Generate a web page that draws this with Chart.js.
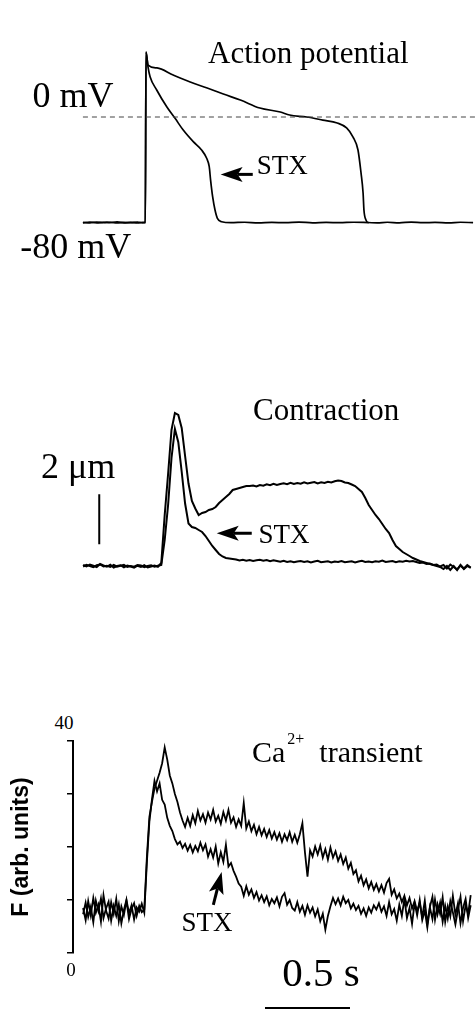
<!DOCTYPE html>
<html>
<head>
<meta charset="utf-8">
<title>AP / contraction / Ca transient</title>
<script src="https://cdn.jsdelivr.net/npm/chart.js"></script>
<style>
    body { margin: 0; background: #fff; }
    #page {
        position: relative; width: 475px; height: 1010px; overflow: hidden;
        font-family: 'Liberation Serif', 'Times New Roman', serif; color: #000;
    }
    #page canvas { position: absolute; left: 0; }
    .lbl { position: absolute; white-space: nowrap; line-height: 1; }
</style>
</head>
<body>
<div id="page">
    <canvas id="apChart" width="475" height="300" style="top:0"></canvas>
    <canvas id="contrChart" width="475" height="220" style="top:380px"></canvas>
    <canvas id="caChart" width="475" height="274" style="top:736px"></canvas>

    <div class="lbl" style="font-size:31px;left:208px;top:36.5px">Action potential</div>
    <div class="lbl" style="font-size:36px;left:32.4px;top:76.5px">0 mV</div>
    <div class="lbl" style="font-size:36px;left:20.3px;top:228.2px">-80 mV</div>
    <div class="lbl" style="font-size:27px;left:256.8px;top:152.4px">STX</div>

    <div class="lbl" style="font-size:31px;left:253px;top:394px">Contraction</div>
    <div class="lbl" style="font-size:36px;left:41px;top:448px">2 μm</div>
    <div class="lbl" style="font-size:27px;left:258.5px;top:520.7px">STX</div>

    <div class="lbl" style="font-size:30px;left:252px;top:736.6px">Ca<span style="font-size:16px;position:relative;top:-18px;margin-left:2px">2+</span>&nbsp;&nbsp;transient</div>
    <div class="lbl" style="font-size:27px;left:181.5px;top:909.4px">STX</div>
    <div class="lbl" style="font-size:19px;left:54.5px;top:713.4px">40</div>
    <div class="lbl" style="font-size:19px;left:66.2px;top:960.1px">0</div>
    <div class="lbl" style="font-size:41px;left:282.3px;top:952.4px">0.5 s</div>
</div>

<script>
// ===== Datos (tiempo en ms, 0 = estímulo) =====

// Potencial de acción (mV)
const apTimeCtrl = [-371, -330, -290, -250, -210, -170, -130, -90, -50, -20, -4, 0, 12, 65, 160, 260, 360, 455, 555, 670,
    790, 845, 945, 1040, 1125, 1180, 1218, 1247, 1265, 1277, 1282, 1294, 1306, 1360, 1420, 1490, 1560, 1630, 1700, 1780, 1850, 1924];
const apCtrl = [-80.2, -79.6, -80.3, -79.8, -80.1, -79.5, -80.2, -79.9, -80.3, -79.8, -80, 49.3, 39.4, 37.2, 31.8, 26.5, 22.0, 17.4, 12.9, 6.8,
    3.8, 1.5, 0, -2.3, -4.5, -8.3, -15.2, -25.0, -42.5, -57.6, -70.5, -78.1, -80, -80.3, -79.8, -80.2, -79.7, -80.1, -79.9, -80.3, -79.8, -80.1];
const apTimeStx = [-371, -330, -290, -250, -210, -170, -130, -90, -50, -20, -4, 0, 12, 24, 63, 122, 171, 219, 278, 327,
    357, 372, 380, 392, 406, 420, 445, 500, 580, 660, 740, 820, 900, 980, 1060, 1140, 1220, 1310];
const apStx = [-79.9, -80.2, -79.7, -80.1, -79.8, -80.3, -79.9, -80.1, -79.7, -80.2, -80, 49.3, 37.9, 30.6, 20.5, 7.8, -1.0, -9.9, -18.7, -25.0,
    -31.3, -37.7, -47.8, -60.4, -70.5, -76.8, -79.4, -80.1, -79.8, -80.2, -79.9, -80.1, -79.7, -80.2, -79.9, -80.1, -79.8, -80];
const apZeroLine = [-371, 1935];

// Contracción (acortamiento, µm), muestreo cada 20 ms desde -370 ms
const contrStart = -370;
const contrStep = 20;
const contrCtrl = [
    0.04, -0.02, 0.06, 0.01, -0.04, 0.08, 0.02, -0.03, 0.05, -0.06, 0.00, 0.03, -0.05, 0.02, -0.02, -0.07, 0.01, -0.04, 0.03, -0.06, -0.02, 0.02, -0.03,
    0.12, 2.04, 3.68, 5.44, 6.12, 6.04, 5.52, 4.40, 3.30, 2.60, 2.30, 2.04, 2.12, 2.16, 2.24, 2.28, 2.36, 2.52, 2.64, 2.76, 2.88, 3.04, 3.08, 3.12, 3.16, 3.20,
    3.20, 3.22, 3.18, 3.24, 3.21, 3.27, 3.23, 3.29, 3.24, 3.28, 3.31, 3.27, 3.33, 3.28, 3.32, 3.29, 3.35, 3.30, 3.33, 3.36, 3.30, 3.35, 3.32, 3.37, 3.34, 3.39, 3.42, 3.40, 3.34, 3.32, 3.26, 3.20,
    3.08, 2.96, 2.72, 2.44, 2.24, 2.04, 1.88, 1.68, 1.48, 1.32, 1.04, 0.80, 0.68, 0.56, 0.48, 0.40, 0.32, 0.26, 0.20, 0.16, 0.12, 0.08, 0.04, 0.00, -0.04, -0.12, 0.00, -0.16, 0.00, -0.16, 0.04, -0.12, 0.00, -0.08
];
const contrStx = [
    -0.02, 0.05, 0.00, -0.05, 0.03, 0.06, -0.02, 0.01, -0.04, 0.04, -0.03, 0.01, 0.05, -0.04, 0.00, -0.03, 0.04, 0.02, -0.05, 0.00, 0.03, -0.03, 0.01,
    0.04, 1.04, 2.44, 4.32, 5.48, 4.95, 3.77, 2.50, 1.70, 1.56, 1.52, 1.44, 1.36, 1.20, 1.00, 0.80, 0.64, 0.48, 0.38, 0.32, 0.30, 0.28,
    0.26, 0.22, 0.25, 0.21, 0.24, 0.20, 0.23, 0.25, 0.21, 0.24, 0.19, 0.23,
    0.20, 0.17, 0.21, 0.16, 0.19, 0.15, 0.18, 0.20, 0.16, 0.19, 0.14, 0.18, 0.21, 0.15, 0.17, 0.19, 0.14, 0.18, 0.16, 0.20,
    0.15, 0.17, 0.19, 0.14, 0.18, 0.21, 0.16, 0.18, 0.15, 0.19, 0.17, 0.22, 0.16, 0.18, 0.20, 0.15, 0.19, 0.17, 0.21, 0.18, 0.20,
    0.16, 0.12, 0.14, 0.08, 0.10, 0.04, 0.06, -0.02, 0.04, -0.10, 0.06, -0.04, -0.14, 0.02, -0.10, 0.04, -0.06
];
const scaleBarUm = [0.87, 2.87]; // 2 µm

// Transitorio de Ca2+ (F, unidades arbitrarias), muestreo cada 15 ms desde -370 ms
const caStart = -370;
const caStep = 15;
const caCtrl = [
    8.5, 6.2, 9.8, 7.1, 10.4, 7.6, 9.1, 5.9, 10.9, 8.0, 6.5, 9.6, 7.4, 10.2, 6.0, 8.8, 7.2, 9.9, 6.4, 8.3, 9.4, 7.0, 8.9, 7.7, 8.2,
    18.0, 25.7, 28.5, 31.0, 32.5, 34.0, 35.8, 38.8, 36.5, 33.5, 32.0, 30.0, 28.5, 26.5, 25.0, 23.8,
    25.5, 24.0, 26.0, 24.5, 26.8, 25.0, 26.2, 24.6, 26.5, 25.2, 27.0, 24.8, 25.9, 24.4, 26.6, 25.0, 27.0, 24.6, 25.6, 23.8, 25.2, 24.0,
    28.3, 23.5, 24.8, 23.0, 24.2, 22.4, 23.8, 22.2, 23.4, 21.9, 23.2, 21.6, 22.8, 21.4, 22.6, 21.0, 22.4, 21.3, 22.8, 21.0, 22.3, 20.8, 22.4, 24.5, 19.0,
    14.4, 19.4, 18.2, 20.1, 18.6, 20.3, 18.0, 19.6, 17.6, 19.9, 18.0, 19.2, 17.4, 18.6, 16.8, 18.0, 15.9, 17.0, 14.9, 15.6, 13.5, 14.6, 12.8, 13.9, 12.2, 13.4, 11.9, 13.0, 11.6, 12.8, 11.4, 13.2, 14.0,
    11.0, 12.0, 10.3, 11.2, 9.6, 10.8, 9.0, 10.4, 8.4, 9.8, 7.9, 9.5, 6.8, 9.9, 5.5, 8.7, 10.6, 6.3, 9.2, 7.4, 10.5, 5.9, 8.8, 6.9, 10.8, 7.2, 9.4, 5.6, 8.5, 10.2, 6.6, 9.0
];
const caStx = [
    7.3, 9.5, 6.8, 8.7, 5.8, 9.9, 7.9, 10.3, 6.6, 8.4, 9.7, 6.1, 8.9, 7.0, 9.2, 5.6, 8.1, 10.0, 7.5, 9.0, 6.3, 8.6, 7.8, 9.3, 7.6,
    17.0, 24.8, 29.0, 32.5, 30.5, 32.0, 28.9, 28.0, 25.5, 24.0, 23.0, 21.5, 20.5, 21.0, 19.8, 20.6, 19.3, 20.4, 19.0, 20.2, 19.2, 20.8, 19.4, 20.5, 18.2, 19.6, 18.0, 20.1, 16.9, 19.0, 17.2, 20.4, 16.3, 17.0,
    15.5, 14.4, 13.1, 12.5, 10.8, 12.6, 11.0, 12.0, 10.4, 11.5, 9.9, 10.9, 9.6, 10.7, 9.0, 10.2, 9.4, 10.5, 8.8, 10.6, 11.3, 9.1, 10.0, 8.5, 8.0, 9.6, 7.8, 8.9, 7.2, 9.0, 7.6, 8.6, 6.9, 8.2, 6.0, 7.4, 4.4, 7.0,
    8.8, 10.4, 9.2, 10.3, 9.0, 10.6, 9.4, 10.0, 8.4, 9.3, 8.1, 8.9, 7.4, 8.4, 7.0, 8.6, 7.6, 9.0, 8.2, 9.4, 7.8, 8.8, 7.0, 9.6, 7.3, 8.3, 6.1, 9.1, 7.0, 10.2,
    6.6, 8.5, 5.5, 9.4, 7.1, 10.0, 6.2, 8.0, 4.8, 8.6, 6.4, 10.1, 7.3, 9.5, 5.9, 8.9, 6.5, 9.8, 7.7, 5.4, 8.2, 10.6, 6.0, 9.0, 7.4, 10.9
];
const scaleBarMs = [700, 1200]; // 0.5 s
const caTicks = [0, 40];

// ===== Helpers =====
const pairs = (ts, vs) => ts.map((t, i) => ({ x: t, y: vs[i] }));
const sampled = (t0, dt, vs) => vs.map((v, i) => ({ x: t0 + i * dt, y: v }));

// flechas "STX" en coordenadas de datos
const arrowPlugin = {
    id: 'arrows',
    afterDatasetsDraw(chart, args, opts) {
        const { ctx } = chart;
        const sx = chart.scales.x, sy = chart.scales.y;
        (opts.list || []).forEach(a => {
            const x0 = sx.getPixelForValue(a.from[0]), y0 = sy.getPixelForValue(a.from[1]);
            const x1 = sx.getPixelForValue(a.to[0]), y1 = sy.getPixelForValue(a.to[1]);
            const ang = Math.atan2(y1 - y0, x1 - x0);
            const len = 22, half = 7.5, notch = 5;
            ctx.save();
            ctx.strokeStyle = '#000';
            ctx.fillStyle = '#000';
            ctx.lineWidth = 3;
            ctx.beginPath();
            ctx.moveTo(x0, y0);
            ctx.lineTo(x1 - Math.cos(ang) * (len - notch), y1 - Math.sin(ang) * (len - notch));
            ctx.stroke();
            ctx.translate(x1, y1);
            ctx.rotate(ang);
            ctx.beginPath();
            ctx.moveTo(0, 0);
            ctx.lineTo(-len, -half);
            ctx.lineTo(-len + notch, 0);
            ctx.lineTo(-len, half);
            ctx.closePath();
            ctx.fill();
            ctx.restore();
        });
    }
};

const trace = (data, width, extra) => Object.assign({
    data: data,
    borderColor: '#000',
    borderWidth: width,
    pointRadius: 0,
    tension: 0,
    fill: false
}, extra || {});

const baseOptions = (xMin, xMax, yMin, yMax, arrows) => ({
    responsive: false,
    animation: false,
    events: [],
    layout: { padding: 0 },
    plugins: {
        legend: { display: false },
        tooltip: { enabled: false },
        arrows: { list: arrows }
    },
    scales: {
        x: { type: 'linear', display: false, min: xMin, max: xMax },
        y: { type: 'linear', display: false, min: yMin, max: yMax }
    }
});

// ===== Potencial de acción =====
new Chart(document.getElementById('apChart'), {
    type: 'line',
    data: {
        datasets: [
            trace(pairs(apZeroLine, [0, 0]), 1, { borderColor: '#444', borderDash: [5, 4] }),
            trace(pairs(apTimeCtrl, apCtrl), 1.7, { cubicInterpolationMode: 'monotone' }),
            trace(pairs(apTimeStx, apStx), 1.7, { cubicInterpolationMode: 'monotone' })
        ]
    },
    options: baseOptions(-858.8, 1935.3, -138.74, 88.72, [{ from: [628, -43.5], to: [439, -43.5] }]),
    plugins: [arrowPlugin]
});

// ===== Contracción =====
new Chart(document.getElementById('contrChart'), {
    type: 'line',
    data: {
        datasets: [
            trace(sampled(contrStart, contrStep, contrCtrl), 2),
            trace(sampled(contrStart, contrStep, contrStx), 2),
            trace(pairs([-275, -275], scaleBarUm), 2)
        ]
    },
    options: baseOptions(-858.8, 1935.3, -1.36, 7.44, [{ from: [622, 1.31], to: [416, 1.31] }]),
    plugins: [arrowPlugin]
});

// ===== Transitorio de Ca2+ =====
const caOptions = baseOptions(-429.4, 1935.3, caTicks[0], caTicks[1], [{ from: [396, 9.1], to: [445, 15.3] }]);
caOptions.layout.padding = { left: 8, top: 5, bottom: 57, right: 0 };
caOptions.scales.y = {
    type: 'linear',
    display: true,
    min: caTicks[0],
    max: caTicks[1],
    ticks: { display: false, stepSize: 10 },
    grid: { drawOnChartArea: false, drawTicks: true, tickLength: 6, color: '#000', lineWidth: 1.5 },
    border: { display: true, color: '#000', width: 2 },
    title: {
        display: true,
        text: 'F (arb. units)',
        color: '#000',
        font: { family: "'Liberation Sans', Arial, sans-serif", size: 23, weight: 'bold' },
        padding: { top: 0, bottom: 31.4 }
    }
};

new Chart(document.getElementById('caChart'), {
    type: 'line',
    data: {
        datasets: [
            trace(sampled(caStart, caStep, caCtrl), 1.8),
            trace(sampled(caStart, caStep, caStx), 1.8),
            trace(pairs(scaleBarMs, [-10.4, -10.4]), 2, { clip: false })
        ]
    },
    options: caOptions,
    plugins: [arrowPlugin]
});
</script>
</body>
</html>
